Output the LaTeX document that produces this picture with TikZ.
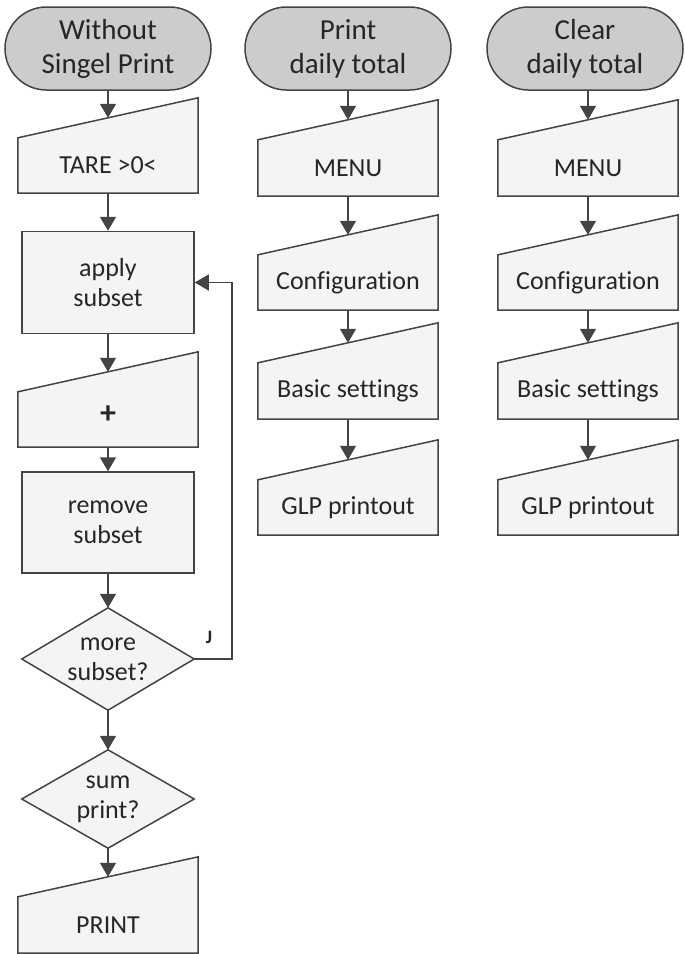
\documentclass[tikz,border=0pt]{standalone}
\usepackage{fontspec}
\setmainfont{Carlito}[Ligatures=NoCommon]
\usetikzlibrary{shapes.misc,arrows.meta,backgrounds,calc}
\definecolor{linec}{RGB}{68,68,68}
\definecolor{termfill}{RGB}{204,204,204}
\definecolor{boxfill}{RGB}{244,244,244}
\definecolor{txtc}{RGB}{38,38,38}
\newcommand\mipoly[1]{%
  \path[shapeline] (#1.south west) -- (#1.south east) -- ($(#1.north east)+(0,-40)$) -- (#1.north west) -- cycle;
  \coordinate (#1-in) at ($(#1.north)+(0,-20)$);}
\newcommand\decpoly[1]{%
  \path[shapeline] (#1.north) -- (#1.east) -- (#1.south) -- (#1.west) -- cycle;}
\tikzset{
  terminal/.style={rounded rectangle, draw=linec, line width=1.5pt, fill=termfill,
    minimum width=206pt, minimum height=83pt, inner sep=0pt, align=center,
    font=\fontsize{29}{34}\selectfont, text=txtc},
  procbox/.style={rectangle, draw=linec, line width=1.5pt, fill=boxfill,
    minimum width=172pt, minimum height=102pt, inner sep=0pt, align=center,
    font=\fontsize{26}{30}\selectfont, text=txtc},
  mibody/.style={rectangle, minimum width=180pt, minimum height=55pt, inner sep=0pt,
    font=\fontsize{26}{30}\selectfont, text=txtc},
  decbody/.style={rectangle, minimum width=172pt, minimum height=100pt, inner sep=0pt,
    align=center, font=\fontsize{26}{30}\selectfont, text=txtc},
  shapeline/.style={draw=linec, line width=1.5pt, fill=boxfill, line join=miter},
  arr/.style={draw=linec, line width=1.5pt, -{Triangle[width=16pt,length=14pt]}},
  lbl/.style={font=\fontsize{19}{21}\selectfont\bfseries, text=txtc, inner sep=0pt},
}
\begin{document}
\begin{tikzpicture}[x=1pt,y=-1pt]
\useasboundingbox (0,0) rectangle (685,954);
% column 1
\node[terminal] (t1) at (108,48.5) {Without\\Singel Print};
\node[mibody] (tare) at (108,165.5) {TARE >0<};
\node[procbox] (apply) at (108,282.5) {apply\\subset};
\node[mibody] (plus) at (108,419.5) {\raisebox{10pt}{\fontsize{32}{34}\selectfont\textbf{+}}};
\node[procbox, minimum height=101pt] (remove) at (108,522.5) {remove\\subset};
\node[decbody, minimum height=102pt] (more) at (108,659) {more\\subset?};
\node[decbody, minimum height=98pt] (sum) at (108,799) {sum\\print?};
\node[mibody, minimum height=56pt] (print) at (108,925) {PRINT};
% column 2
\node[terminal] (t2) at (348,48.5) {Print\\daily total};
\node[mibody, minimum height=56pt] (menu2) at (348,168) {MENU};
\node[mibody] (conf2) at (348,282.5) {Configuration};
\node[mibody, minimum height=56pt] (basic2) at (348,391) {Basic settings};
\node[mibody] (glp2) at (348,507.5) {GLP printout};
% column 3
\node[terminal, minimum width=196pt] (t3) at (585,48.5) {Clear\\daily total};
\node[mibody, minimum height=56pt] (menu3) at (588,168) {MENU};
\node[mibody] (conf3) at (588,282.5) {Configuration};
\node[mibody, minimum height=56pt] (basic3) at (588,391) {Basic settings};
\node[mibody] (glp3) at (588,507.5) {GLP printout};
\begin{scope}[on background layer]
  \mipoly{tare}\mipoly{plus}\mipoly{print}
  \mipoly{menu2}\mipoly{conf2}\mipoly{basic2}\mipoly{glp2}
  \mipoly{menu3}\mipoly{conf3}\mipoly{basic3}\mipoly{glp3}
  \decpoly{more}\decpoly{sum}
\end{scope}
% connectors column 1
\draw[arr] (t1.south) -- (tare-in);
\draw[arr] (tare.south) -- (apply.north);
\draw[arr] (apply.south) -- (plus-in);
\draw[arr] (plus.south) -- (remove.north);
\draw[arr] (remove.south) -- (more.north);
\draw[arr] (more.south) -- (sum.north);
\draw[arr] (sum.south) -- (print-in);
\coordinate (loopx) at (232,0);
\draw[arr] (more.east) -- (more.east -| loopx) -- (apply.east -| loopx) -- (apply.east);
\node[lbl] (j) at (209,637) {J};
% column 2
\draw[arr] (t2.south) -- (menu2-in);
\draw[arr] (menu2.south) -- (conf2-in);
\draw[arr] (conf2.south) -- (basic2-in);
\draw[arr] (basic2.south) -- (glp2-in);
% column 3
\draw[arr] (t3.south -| menu3) -- (menu3-in);
\draw[arr] (menu3.south) -- (conf3-in);
\draw[arr] (conf3.south) -- (basic3-in);
\draw[arr] (basic3.south) -- (glp3-in);
\end{tikzpicture}
\end{document}
